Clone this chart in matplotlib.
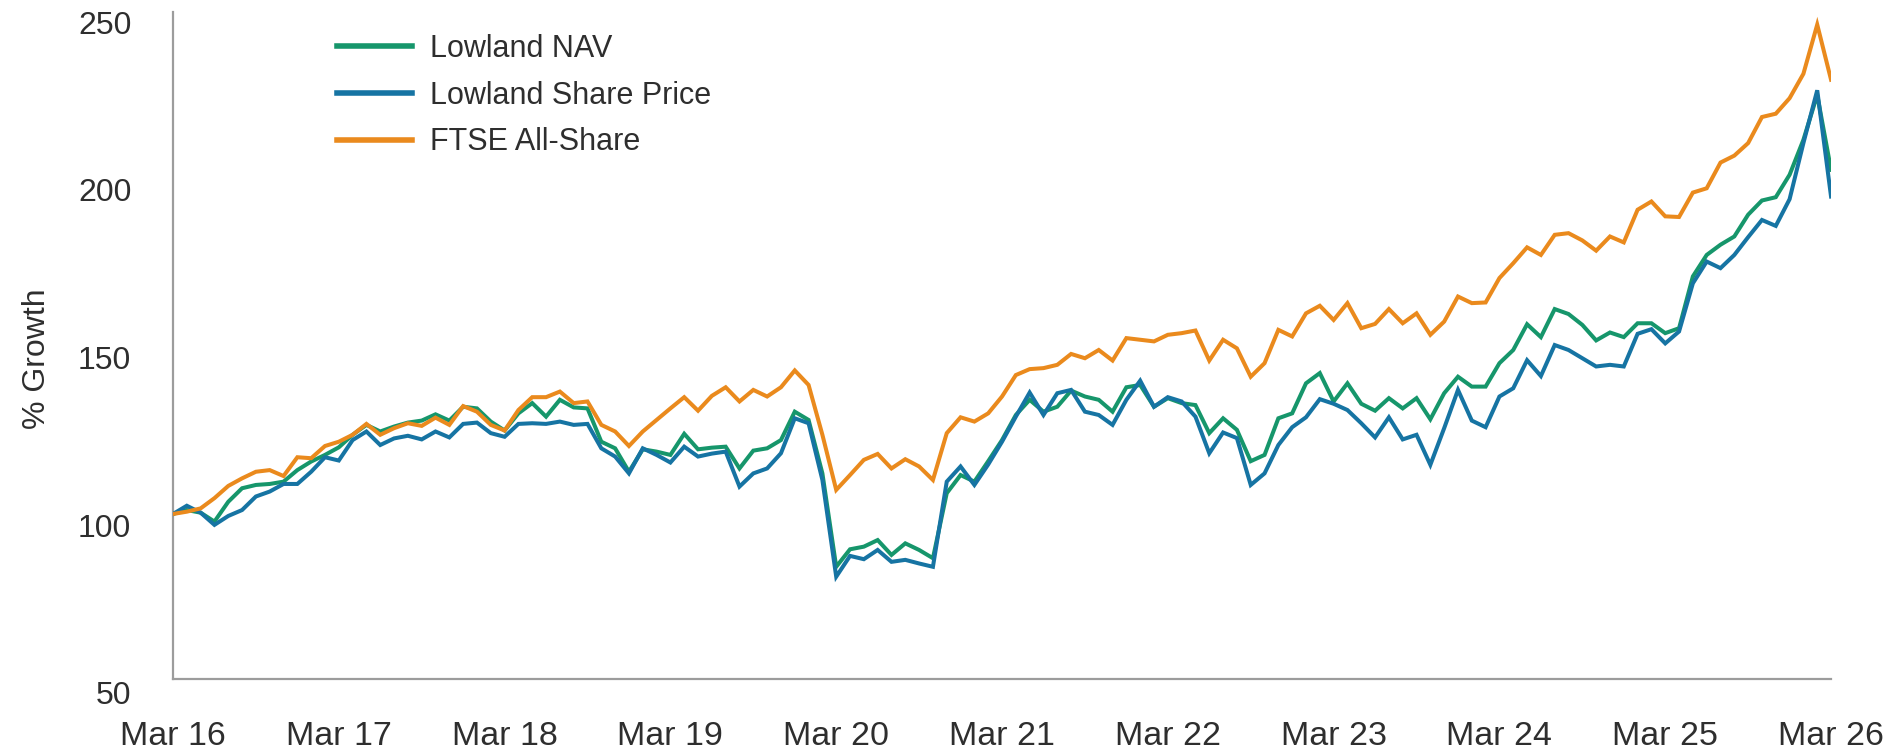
import matplotlib
matplotlib.use("Agg")
import matplotlib.pyplot as plt
from matplotlib.transforms import ScaledTranslation
import numpy as np

# ---- data (monthly, Mar 2016 = 100) ----
tick_labels = ["Mar 16", "Mar 17", "Mar 18", "Mar 19", "Mar 20", "Mar 21",
               "Mar 22", "Mar 23", "Mar 24", "Mar 25", "Mar 26"]

lowland_nav = [
    100, 101.2, 100.4, 97.7, 103.7, 107.8, 108.8, 109.1, 109.8, 113.3,
    115.9, 117.9, 120.2, 124, 127, 125, 126.5, 127.7, 128.3, 130.2,
    128.3, 132.5, 132, 128, 125.3, 130.5, 133.6, 129.5, 134.6, 132.3,
    132, 121.9, 119.9, 112.8, 119.6, 118.9, 117.9, 124.3, 119.6, 120.1,
    120.4, 113.8, 119.2, 119.9, 122.4, 131, 128.5, 112.3, 84, 89.3,
    90.1, 92.1, 87.6, 91.1, 89.1, 86.6, 106.3, 111.8, 109.8, 116,
    122.4, 130, 134.6, 131, 132.5, 137.4, 135.6, 134.6, 131, 138.4,
    139.1, 132.5, 135.1, 133.6, 133, 124.5, 129, 125.5, 116, 117.9,
    129, 130.5, 139.6, 142.7, 134.1, 139.6, 133.4, 131.3, 135.1, 132,
    135.1, 128.7, 136.6, 141.6, 138.6, 138.6, 145.7, 149.7, 157.5, 153.6,
    162.1, 160.6, 157.3, 152.6, 155, 153.6, 157.8, 157.8, 154.8, 156.3,
    172, 178.5, 181.6, 184.1, 190.7, 195, 196, 202.8, 213.4, 227, 204.3,
]

lowland_share_price = [
    100, 102.5, 100.4, 96.7, 99.4, 101.2, 105.3, 106.8, 109.1, 109.1,
    112.8, 117.2, 116.2, 122.4, 125, 120.9, 122.9, 123.7, 122.6, 125,
    123.2, 127.3, 127.7, 124.5, 123.4, 127.3, 127.5, 127.3, 128, 127,
    127.3, 119.9, 117.4, 112.3, 119.9, 117.9, 115.6, 120.4, 117.4, 118.3,
    118.9, 108.3, 112.3, 113.8, 118.4, 129, 127.5, 110.3, 81, 87.3,
    86.3, 89.1, 85.5, 86.1, 85, 84, 109.8, 114.4, 108.8, 115,
    121.9, 129.5, 136.8, 130, 136.6, 137.6, 131, 130, 127, 134.6,
    140.4, 132.5, 135.4, 134.1, 129.5, 118.4, 124.7, 123, 108.8, 112.3,
    120.9, 126.3, 129.3, 134.8, 133.4, 131.5, 127.5, 123.2, 129.3, 122.6,
    124, 114.9, 126, 137.6, 128.3, 126.3, 135.6, 138.1, 146.6, 141.8,
    151.2, 149.7, 147.2, 144.7, 145.2, 144.7, 154.6, 156, 151.7, 155.3,
    169.9, 176.5, 174.5, 178.5, 183.9, 189.1, 187.3, 195.4, 212.4, 228.4, 196.2,
]

ftse_all_share = [
    100, 100.7, 101.7, 104.8, 108.5, 110.8, 112.8, 113.3, 111.5, 117.2,
    116.9, 120.6, 121.9, 124, 127.3, 124, 126, 127.5, 126.7, 129.2,
    127, 132.7, 131, 127, 125.3, 131.5, 135.4, 135.4, 137.1, 133.6,
    134.1, 127, 125, 120.6, 125, 128.5, 132, 135.4, 131.3, 135.8,
    138.4, 134.1, 137.6, 135.6, 138.4, 143.5, 139.1, 124, 107.3, 111.8,
    116.4, 118.2, 113.8, 116.6, 114.4, 110.3, 124.5, 129.3, 128, 130.5,
    135.6, 142.1, 143.9, 144.2, 145.2, 148.5, 147.2, 149.7, 146.5, 153.3,
    152.8, 152.3, 154.3, 154.8, 155.6, 146.5, 152.8, 150.2, 141.6, 145.7,
    155.8, 153.8, 160.8, 163.1, 158.8, 163.9, 156.3, 157.6, 162.1, 157.8,
    160.8, 154.3, 158.3, 165.9, 163.9, 164.1, 171.5, 176, 180.8, 178.5,
    184.6, 185.1, 182.9, 179.8, 184.1, 182.3, 192.2, 194.7, 190.2, 190,
    197.4, 198.7, 206.5, 208.6, 212.4, 220.3, 221.3, 226, 233.4, 248.3, 231.6,
]

y_ticks = [50, 100, 150, 200, 250]
series_names = ["Lowland NAV", "Lowland Share Price", "FTSE All-Share"]
series_colors = ["#16966b", "#1674a3", "#ea8a1d"]

months = np.arange(len(ftse_all_share))

# ---- figure ----
plt.rcParams["font.family"] = ["Liberation Sans", "DejaVu Sans"]
text_color = "#2e2e2e"

fig = plt.figure(figsize=(19.01, 7.52), dpi=100)
ax = fig.add_axes([0.0910, 0.0971, 0.9632 - 0.0910, 0.9835 - 0.0971])

for vals, name, col in zip([lowland_nav, lowland_share_price, ftse_all_share],
                           series_names, series_colors):
    ax.plot(months, vals, color=col, lw=2.9, label=name,
            solid_joinstyle="miter", zorder=3)

ax.set_xlim(0, 120)
ax.set_ylim(50, 252)
ax.set_yticks(y_ticks)
ax.set_xticks(np.arange(0, 121, 12))
ax.set_xticklabels(tick_labels)

for side in ["top", "right"]:
    ax.spines[side].set_visible(False)
for side in ["left", "bottom"]:
    ax.spines[side].set_color("#9c9c9c")
    ax.spines[side].set_linewidth(1.6)

ax.tick_params(axis="both", length=0, colors=text_color)
ax.tick_params(axis="y", labelsize=23, pad=30)
ax.tick_params(axis="x", labelsize=24.5, pad=30)

# the reference's y labels sit slightly below their gridline values
for lab, v in zip(ax.get_yticklabels(), y_ticks):
    dy_px = 3 + (250 - v) * 0.055
    lab.set_transform(lab.get_transform() +
                      ScaledTranslation(0, -dy_px / 100, fig.dpi_scale_trans))

ax.set_ylabel("% Growth", fontsize=23, color=text_color)
ax.yaxis.set_label_coords(-0.073, 0.481)

leg = ax.legend(loc="upper left", bbox_to_anchor=(0.1773, 0.955),
                bbox_transform=fig.transFigure, frameon=False, fontsize=22,
                handlelength=2.45, handletextpad=0.6, labelspacing=0.55,
                borderpad=0, borderaxespad=0)
for t in leg.get_texts():
    t.set_color(text_color)
for h in leg.get_lines():
    h.set_linewidth(4)

fig.savefig("out.png", dpi=100, facecolor="white")
